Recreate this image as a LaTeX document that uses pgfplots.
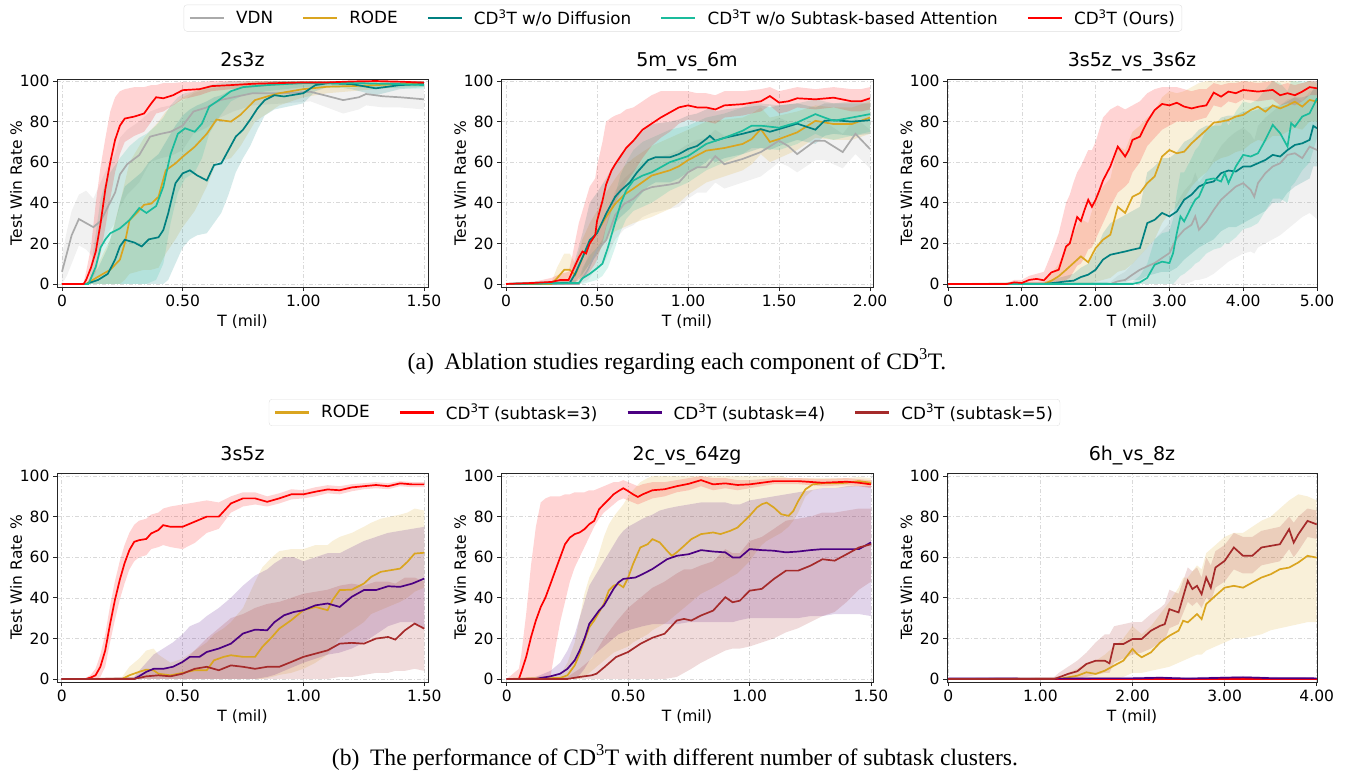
\documentclass[border=0pt]{standalone}
\usepackage{fontspec}
\setmainfont{DejaVu Sans}
\newfontfamily\capfont{Liberation Serif}
\usepackage{pgfplots}
\pgfplotsset{compat=1.18}
\usepackage{pgfplotstable}
\usepgfplotslibrary{fillbetween}

\definecolor{cvdn}{RGB}{170,170,170}
\definecolor{crode}{RGB}{218,165,32}
\definecolor{cteal}{RGB}{0,128,128}
\definecolor{ccyan}{RGB}{26,188,156}
\definecolor{cred}{RGB}{255,0,0}
\definecolor{cind}{RGB}{75,0,130}
\definecolor{cbrown}{RGB}{165,42,42}

% ---------------- 2s3z ----------------
\pgfplotstableread{
x m lo hi
0 6 0 14
0.02 15 4 26
0.04 24 10 36
0.07 32 19 44
0.10 30 17 46
0.13 28 13 42
0.16 31 18 50
0.19 38 25 58
0.22 45 30 64
0.24 54 38 72
0.27 59 44 76
0.32 63.5 50 80
0.365 72.6 60 85
0.41 74 62 87
0.45 75 63 88
0.50 78 66 90
0.545 85 74 94
0.60 87 77 96
0.655 90.6 82 97
0.71 92 85 98
0.79 94 88 99
0.92 94 89 99
1.03 94.7 90 99
1.12 92 86 97
1.165 90.6 84 96
1.23 92 86 97
1.26 93.6 88 98
1.33 92.5 87 97.5
1.40 92 87 97
1.50 91 86 96
}\PaV
\pgfplotstableread{
x m lo hi
0 0 0 0
0.10 0 0 0
0.15 3.6 0 10
0.20 7 0 22
0.24 12 0 40
0.26 20 2 50
0.28 31.5 5 60
0.31 35 6 66
0.34 39 7 72
0.37 39.6 7 76
0.40 43 8 80
0.43 56 15 85
0.47 59.4 22 89
0.50 62.7 28 92
0.55 67.6 36 95
0.60 74 48 97
0.64 81 60 98
0.70 80 62 98
0.74 83.4 68 99
0.80 90.6 80 100
0.85 92.4 84 100
0.90 94 88 100
1.00 96 92 100
1.10 97.2 94 100
1.20 97.5 95 100
1.30 98 96 100
1.40 98.5 97 100
1.50 98.5 97 100
}\PaR
\pgfplotstableread{
x m lo hi
0 0 0 0
0.10 0 0 0
0.15 2 0 8
0.19 5 0 18
0.22 12 0 30
0.24 18.5 0 40
0.26 21.8 0 48
0.30 20.4 0 52
0.33 18.5 0 55
0.36 22 0 60
0.40 23 0 64
0.42 26.6 0 68
0.44 34.8 2 72
0.47 49.6 10 78
0.50 54.5 18 83
0.53 56 22 86
0.56 53.5 24 88
0.60 51 25 90
0.63 58.6 30 92
0.66 59.4 35 93
0.69 66 44 95
0.72 72.6 55 96
0.75 76 62 97
0.78 81 68 98
0.81 86.5 76 99
0.84 90.6 83 99
0.88 93 86 100
0.92 92.4 87 100
1.00 94 89 100
1.05 98 95 100
1.10 98.9 97 100
1.20 98.5 96 100
1.30 96.4 93 99
1.40 98 96 100
1.50 98.5 97 100
}\PaT
\pgfplotstableread{
x m lo hi
0 0 0 0
0.11 0 0 0
0.14 8.5 0 25
0.16 18 0 42
0.18 22 0 50
0.20 25 0 55
0.24 27.4 0 62
0.28 31.5 0 68
0.32 37.4 0 72
0.35 35 0 74
0.39 38.4 2 78
0.42 48 10 82
0.45 64 30 88
0.48 74 45 92
0.51 76.7 52 94
0.55 75 55 95
0.58 79 62 96
0.61 87.4 74 98
0.65 90.6 82 99
0.70 95 90 100
0.75 97 93 100
0.85 98 95 100
1.00 99 97 100
1.20 99 97 100
1.40 98.5 96.5 100
1.50 98 96 100
}\PaC
\pgfplotstableread{
x m lo hi
0 0 0 0
0.08 0 0 0
0.09 0 0 1
0.10 2 0 6
0.12 8 2 18
0.14 16 6 40
0.16 30 15 58
0.18 47 28 72
0.20 60 42 85
0.22 71 55 92
0.24 78 64 95
0.26 81.5 70 96
0.30 82.5 73 97
0.34 84 75 97
0.37 89 80 98
0.39 92 84 98
0.42 91.5 85 99
0.46 93 88 99
0.50 95.5 91 99.5
0.57 96 93 99.5
0.62 97.5 95 100
0.70 98 96 100
0.80 98.7 97 100
0.90 99 98 100
1.00 99.3 98.5 100
1.10 99.3 98.5 100
1.20 99.8 99 100
1.30 100 99.5 100
1.40 99.7 99 100
1.50 99.2 98.5 100
}\PaO

% ---------------- 5m_vs_6m ----------------
\pgfplotstableread{
x m lo hi
0 0 0 0.5
0.40 0 0 1
0.45 7 2 14
0.50 16.7 8 26
0.55 21.6 12 34
0.60 34 22 46
0.65 39.5 27 52
0.70 42 29 56
0.75 46 33 60
0.80 47.7 35 62
0.90 49 37 64
0.95 50 38 66
1.00 55 42 69
1.05 57.5 45 71
1.10 57.5 45 72
1.15 63 50 76
1.20 59 47 73
1.30 61.6 50 75
1.40 65 53 78
1.50 70.6 60 82
1.55 68 58 80
1.60 64 55 76
1.70 70.6 61 80
1.75 70.6 61 80
1.85 65 57 74
1.92 74 64 82
2.00 66.5 57 76
}\PbV
\pgfplotstableread{
x m lo hi
0 0 0 0.5
0.25 0 0 1
0.28 2.8 0 8
0.32 7 1 15
0.35 7 1 15
0.38 4.4 0 10
0.42 13 4 22
0.46 20 10 30
0.50 25.7 15 36
0.55 33 21 45
0.60 39.5 26 52
0.65 44 28 58
0.70 47 30 62
0.80 53.4 33 68
0.90 56 37 72
0.95 58 40 74
1.00 61 44 76
1.10 65.7 50 80
1.20 67 53 81
1.30 69 56 82
1.35 71.4 59 84
1.40 76.3 64 87
1.45 70 60 82
1.50 71.4 62 83
1.60 74.7 66 85
1.70 80.4 72 88
1.80 78.8 71 87
1.90 78.8 71 87
2.00 82 74 90
}\PbR
\pgfplotstableread{
x m lo hi
0 0 0 0.5
0.35 0.5 0 2
0.38 5 1 12
0.42 13 5 25
0.46 21.6 10 40
0.50 25 14 45
0.55 34.6 22 52
0.60 43 30 60
0.63 46 33 64
0.68 50 37 68
0.72 55 42 72
0.78 61 48 78
0.82 62.4 50 79
0.90 62.4 50 80
0.95 64 52 81
1.00 66.5 55 83
1.05 68 57 84
1.10 71.4 60 86
1.12 73 62 87
1.15 70.6 60 85
1.20 72 62 86
1.30 74 64 87
1.40 76.3 67 88
1.45 75 66 87
1.50 76.3 68 88
1.60 79 71 89
1.70 76 69 87
1.75 80.4 73 89
1.80 80.7 74 89
1.90 80 73 89
2.00 80.7 74 89
}\PbT
\pgfplotstableread{
x m lo hi
0 0 0 0.5
0.40 0.5 0 2
0.42 2.8 0 8
0.46 5 1 14
0.50 7.7 2 18
0.53 10 4 22
0.56 18 8 32
0.60 30.5 18 44
0.63 39.5 26 54
0.66 46 32 60
0.70 51 36 66
0.75 53.4 38 70
0.80 55 40 72
0.85 57.5 43 74
0.90 60 46 76
1.00 63 50 78
1.10 69 56 82
1.20 72 60 84
1.30 75.5 64 87
1.35 78 67 89
1.40 78 67 89
1.50 77 66 88
1.60 79.6 69 89
1.70 83.7 74 91
1.75 82 72 90
1.80 80.4 71 89
1.90 82 73 90
2.00 83.7 75 91
}\PbC
\pgfplotstableread{
x m lo hi
0 0 0 0.5
0.15 0.5 0 1
0.25 1 0 3
0.30 2 0 5
0.344 2 0 6
0.36 5.2 0 12
0.40 13 2 30
0.42 16 3 36
0.44 15 4 42
0.46 20 6 48
0.49 24 10 52
0.50 31 12 58
0.53 41 20 70
0.55 49 28 80
0.58 56 36 82
0.60 59 40 83
0.63 63 45 84
0.66 67 50 86
0.70 70.6 55 87
0.75 76 62 90
0.80 79 68 93
0.85 82 72 95
0.90 84.5 75 95
0.95 87 79 95
1.00 88 81 95
1.05 87 80 94
1.10 87 80 94
1.15 86 79 93
1.20 88 82 95
1.30 88.6 83 95
1.40 90 85 96
1.45 92.6 88 97
1.50 89.4 84 95
1.55 90 85 96
1.60 91.5 87 97
1.70 91 86 96
1.80 91.8 87 97
1.90 90 85 96
1.95 90 85 96
2.00 91.5 86 97
}\PbO

% ---------------- 3s5z_vs_3s6z ----------------
\pgfplotstableread{
x m lo hi
0 0 0 0.3
2.2 0 0 1
2.3 1.3 0 4
2.4 2 0 6
2.5 4.6 0 10
2.6 7 0 14
2.7 8.7 0 18
2.8 10.3 0 22
2.9 12.8 0 26
3.0 15.2 0 30
3.1 22.6 0 40
3.2 26.7 0 46
3.3 29.2 1 50
3.35 33.3 2 55
3.4 26.7 2 50
3.5 30.8 3 55
3.6 36.5 5 62
3.7 41.5 8 68
3.8 44.8 11 72
3.9 48 13 75
4.0 49.7 15 77
4.1 46.4 16 74
4.15 43 15 71
4.2 49.7 18 78
4.3 54.6 20 82
4.4 57.9 22 85
4.5 59.5 24 88
4.6 63.6 27 91
4.7 64.4 30 92
4.8 62 33 90
4.9 67.7 35 95
5.0 66 32 96
}\PcV
\pgfplotstableread{
x m lo hi
0 0 0 0.3
1.3 0 0 1
1.4 1.6 0 5
1.5 3.8 0 10
1.6 7 0 18
1.7 10.3 0 25
1.8 13.6 0 32
1.9 10.7 0 30
2.0 17.7 1 42
2.1 21.8 2 48
2.2 24.3 3 52
2.3 38 6 68
2.4 35 7 66
2.5 43 10 75
2.6 44.8 14 78
2.7 49.7 18 82
2.8 53 22 85
2.9 62.8 30 92
3.0 66 35 95
3.1 64.4 38 94
3.2 65.2 42 95
3.3 69.3 48 97
3.4 72.6 52 99
3.5 75.9 55 100
3.6 79.5 60 100
3.7 80 62 100
3.8 80.8 63 100
3.9 82.5 65 100
4.0 83.3 66 100
4.1 85.7 69 100
4.2 87.4 71 100
4.3 84.9 70 100
4.4 88 73 100
4.5 86.5 73 100
4.6 88 75 100
4.7 89.8 77 100
4.8 87.4 76 99
4.9 90.7 80 100
5.0 89.8 80 99
}\PcR
\pgfplotstableread{
x m lo hi
0 0 0 0.3
1.3 0 0 1
1.5 0.8 0 3
1.6 1.3 0 4
1.7 1.6 0 5
1.8 3.4 0 8
1.9 4.6 0 10
2.0 7 0 16
2.1 12 0 25
2.2 14.4 1 30
2.3 15.2 1 32
2.4 16 1 34
2.5 16.9 2 36
2.6 17.7 2 38
2.7 30 4 55
2.8 31.6 5 58
2.9 35 6 62
3.0 33.3 6 62
3.1 35.7 8 65
3.2 41.5 12 70
3.3 44 15 72
3.4 48 18 76
3.5 49.7 20 78
3.6 50.5 22 78
3.7 54.6 26 82
3.8 55.9 28 83
3.9 55.4 28 83
4.0 57.9 30 85
4.1 57.9 32 85
4.2 59.5 34 86
4.3 61.1 36 87
4.4 63.6 40 88
4.5 62.8 40 88
4.6 66 45 90
4.7 68.5 48 92
4.8 69.3 50 92
4.9 71 52 93
4.95 77.9 58 96
5.0 76.7 58 96
}\PcT
\pgfplotstableread{
x m lo hi
0 0 0 0.3
2.5 0 0 1
2.6 0.8 0 4
2.7 3 0 10
2.8 9.5 0 22
2.9 11 0 25
3.0 10.3 0 26
3.05 15.2 0 32
3.1 25 2 45
3.15 33.3 4 55
3.2 30.8 5 55
3.3 38.2 8 62
3.35 41.5 10 66
3.4 43 11 68
3.5 51.3 15 76
3.6 52 17 78
3.7 50.5 18 78
3.75 54.6 20 82
3.8 49.7 20 78
3.9 57.9 23 85
4.0 63.6 27 90
4.1 62.8 28 89
4.2 64.4 30 91
4.3 71 36 96
4.4 78.4 42 100
4.5 74.3 42 99
4.6 67.7 40 95
4.65 79.2 48 100
4.7 77.5 50 100
4.8 82.5 56 100
4.9 84.1 60 100
5.0 91.5 72 100
}\PcC
\pgfplotstableread{
x m lo hi
0 0 0 0.3
0.8 0 0 0.5
0.9 0.8 0 2
1.0 0.5 0 2
1.1 2 0 4
1.2 2.5 0 5
1.3 1.8 0 6
1.4 5.7 0 15
1.5 7 0 25
1.6 18.5 2 40
1.65 20 3 44
1.7 26.7 6 50
1.75 33 9 55
1.8 31 10 58
1.85 36.5 13 62
1.9 41.5 17 66
1.95 38 18 66
2.0 41.5 22 70
2.05 46 26 76
2.1 51 30 82
2.2 58 38 86
2.3 67.7 45 88
2.4 62.8 48 86
2.45 66 50 87
2.5 71 55 88
2.6 72.6 60 90
2.7 80 68 94
2.8 85.7 72 96
2.9 88.7 76 97
3.0 88 78 97
3.1 89.3 80 97
3.2 87.4 80 96
3.3 86.5 80 95
3.4 87.4 81 96
3.5 88 82 96
3.6 94.3 88 99
3.7 92.3 87 98
3.8 94.8 90 99
3.9 94 89 99
4.0 95.6 91 100
4.2 94.8 90 99
4.4 95.6 91 100
4.5 93 88 98
4.6 94 89 99
4.7 93 88 98
4.8 94.8 90 99
4.9 97 93 100
5.0 96.4 93 100
}\PcO

% ---------------- 3s5z ----------------
\pgfplotstableread{
x m lo hi
0 0 0 0
0.25 0 0 1
0.28 1.8 0 6
0.32 3.5 0 10
0.35 4.6 0 14
0.38 4.3 0 15
0.40 2.6 0 12
0.45 1.8 0 8
0.50 3 0 10
0.55 4.3 0 14
0.60 4.3 0 18
0.63 9.2 0 22
0.67 10.9 0 25
0.70 11.7 0 28
0.75 10.9 0 35
0.80 10.9 0 48
0.83 15.8 0 55
0.87 20.7 1 60
0.90 24.8 2 63
0.95 29 3 64
1.00 33.9 5 64
1.05 35.5 8 66
1.10 33.9 12 66
1.12 38.8 15 68
1.15 43.8 20 70
1.20 44 24 72
1.25 47 28 75
1.28 50.3 32 77
1.32 52.8 34 79
1.36 53.6 36 80
1.40 54.4 38 81
1.43 57.7 40 82
1.46 61.8 43 84
1.50 62.2 45 83
}\PdR
\pgfplotstableread{
x m lo hi
0 0 0 0
0.10 0 0 0.5
0.12 0.7 0 2
0.14 1.8 0 5
0.16 6 1 12
0.18 14 6 22
0.20 27 18 36
0.22 38.8 29 48
0.24 48.7 39 58
0.26 57 47 66
0.28 63.5 54 72
0.30 67.6 58 76
0.32 68.4 60 78
0.35 69 61 79
0.37 71.7 64 81
0.40 73.4 65 82
0.42 75.8 66 84
0.45 75 65 85
0.50 75 64 86
0.55 77.5 67 87
0.60 80 72 88
0.65 80 74 87
0.70 86.5 82 90
0.75 89 85 92
0.80 89 86 92
0.85 87.3 85 90
0.90 89 86.5 91.5
0.95 91 88.5 93.5
1.00 91 89 93
1.05 92.3 90 94.5
1.10 93.4 91.5 95.5
1.15 93 91 95
1.20 94.4 92.5 96
1.25 95 93.5 96.5
1.30 95.6 94 97
1.35 95 93.5 96.5
1.40 96.4 95 97.5
1.45 95.9 94.5 97
1.50 95.9 94.5 97
}\PdO
\pgfplotstableread{
x m lo hi
0 0 0 0
0.30 0 0 1
0.32 1.3 0 4
0.35 3.5 0 8
0.38 5 0 12
0.42 5 0 15
0.46 6 0 18
0.50 8.4 0 22
0.53 10.9 0 26
0.57 10.9 0 28
0.60 13.3 0 31
0.65 15 0 35
0.70 17.4 0 40
0.75 22.4 0 46
0.80 24.3 0 51
0.85 24 1 54
0.88 28 2 57
0.92 31.4 4 60
0.96 33 6 60
1.00 33.9 8 58
1.05 36.3 10 60
1.10 37.2 12 62
1.15 35.5 13 62
1.20 40.5 15 65
1.25 43.8 18 68
1.30 43.8 22 70
1.35 45.7 26 72
1.40 45.4 28 73
1.45 47 28 74
1.50 49.5 25 75
}\PdI
\pgfplotstableread{
x m lo hi
0 0 0 0
0.30 0 0 1
0.35 1.3 0 4
0.40 1.8 0 5
0.45 1.3 0 5
0.50 2.6 0 8
0.55 5 0 14
0.60 6 0 20
0.65 4.3 0 25
0.70 6.7 0 30
0.75 6 0 32
0.80 5 0 35
0.85 6 0 37
0.90 6 0 38
0.95 8.4 0 40
1.00 10.9 0 42
1.05 12.5 0 43
1.10 14.1 0 44
1.15 17.4 1 46
1.20 17.8 1 47
1.25 17.4 2 46
1.30 19.9 3 48
1.35 20.7 3 48
1.38 19.4 4 47
1.42 24 4 50
1.46 27.3 5 50
1.50 24.8 4 48
}\PdB

% ---------------- 2c_vs_64zg ----------------
\pgfplotstableread{
x m lo hi
0 0 0 0
0.22 0.5 0 2
0.25 1.8 0 8
0.28 6.7 0 18
0.30 12.4 0 30
0.32 19 1 42
0.34 25.5 3 50
0.36 28.8 5 55
0.38 32.9 7 62
0.40 37 9 70
0.42 43.5 11 76
0.44 46 13 80
0.46 46.8 14 83
0.48 45.2 15 86
0.50 50 16 90
0.52 56.6 18 93
0.55 64.8 20 97
0.58 66.4 22 99
0.60 68.9 24 100
0.63 67.3 26 100
0.66 63.2 28 100
0.68 60.7 30 100
0.70 62.4 32 100
0.73 65.6 35 100
0.76 68.9 38 100
0.80 71.4 42 100
0.85 72.2 45 100
0.88 71.4 47 100
0.92 73 50 100
0.95 74.6 52 100
1.00 80.4 58 100
1.03 84.5 63 100
1.05 86.1 66 100
1.07 86.9 68 100
1.10 84.5 70 100
1.13 81.2 72 100
1.16 80.4 75 99
1.18 82.8 78 99
1.20 87.7 82 99
1.23 93.5 90 99
1.26 95.9 93 99
1.30 96.4 94 99
1.35 96.4 94 99
1.40 96.7 94.5 99
1.45 97.5 95 99.5
1.50 96.7 94.5 99
}\PeR
\pgfplotstableread{
x m lo hi
0 0 0 0
0.05 0 0 5
0.06 3.4 0 12
0.08 10.8 0 32
0.10 20.6 0 56
0.12 28.8 0 75
0.14 35.4 0 87
0.16 40.3 0 89
0.18 46.8 1 90
0.20 53.4 15 90
0.22 59.9 28 90
0.24 66.4 38 91
0.26 69.7 48 91
0.28 71.4 55 92
0.30 72.2 60 92
0.32 73.8 65 92
0.34 76.3 70 93
0.36 77.9 75 93
0.38 83.6 79 94
0.40 86.1 82 95
0.42 88.5 84 96
0.44 91 86 97
0.46 92.6 88 97
0.48 94 89 98
0.50 92.6 88 97
0.52 91 87 96
0.54 89.7 86 95
0.56 91 87 96
0.60 93 89 97
0.65 93.5 90 97
0.70 95 92 98
0.75 96.2 93 99
0.80 98 95 100
0.85 95.9 93 99
0.90 96.4 94 99
0.95 95.6 93 98
1.00 95.9 94 98
1.05 96.7 95 98.5
1.10 97.5 96 99
1.20 97.5 96 99
1.30 96.7 95 98.5
1.40 97.2 95.5 99
1.45 96.7 95 98.5
1.50 95.9 94 98
}\PeO
\pgfplotstableread{
x m lo hi
0 0 0 0
0.12 0 0 1
0.14 0.5 0 2
0.18 1.3 0 4
0.22 2.6 0 8
0.25 5 0 14
0.28 9.2 0 22
0.30 14 2 30
0.32 19.8 5 38
0.34 27.2 9 46
0.36 30.4 12 50
0.38 33.7 14 54
0.40 36.2 16 58
0.42 40.3 18 62
0.44 44.4 20 66
0.46 47.6 22 70
0.48 49.3 23 73
0.50 49.6 24 75
0.53 50 25 77
0.56 51.7 26 79
0.60 54.2 27 81
0.63 56.6 27 83
0.66 59 27 84
0.70 60.7 27 85
0.75 61.5 28 86
0.80 63.5 28 87
0.85 62.8 28 87
0.90 62.4 28 87
0.93 59.9 28 86
0.96 59.9 29 86
1.00 64 30 88
1.05 63.5 30 89
1.10 63.2 30 90
1.15 62.4 30 91
1.20 62.8 30 92
1.25 63.5 31 93
1.30 64 31 94
1.35 64 32 94
1.40 64 32 95
1.45 64 32 95
1.50 67.3 31 95
}\PeI
\pgfplotstableread{
x m lo hi
0 0 0 0
0.25 0 0 1
0.30 1 0 5
0.35 1.8 0 10
0.37 2.6 0 14
0.40 5.6 0 20
0.45 10.8 0 28
0.50 13.3 0 35
0.55 17.3 0 40
0.60 20.3 0 45
0.65 22.3 0 48
0.70 28.8 1 52
0.73 29.6 3 54
0.76 28.8 5 54
0.80 31.3 8 56
0.85 33.7 11 58
0.90 40.3 14 64
0.93 37.8 15 62
0.96 38.6 15 62
1.00 43.5 16 68
1.05 44.4 18 70
1.10 49.3 20 74
1.15 53.4 23 78
1.20 53.4 25 79
1.25 55.8 28 80
1.30 59 31 82
1.35 58.3 33 82
1.40 61.5 38 83
1.45 64.8 44 84
1.50 66.4 48 84
}\PeB

% ---------------- 6h_vs_8z ----------------
\pgfplotstableread{
x m lo hi
0 0 0 0.3
1.2 0 0 1
1.3 0.8 0 3
1.4 1.6 0 5
1.5 3.3 0 8
1.6 2.5 0 9
1.7 4.1 0 12
1.8 6.6 0 16
1.9 9 1 20
2.0 14.8 3 26
2.05 12.3 3 24
2.1 10.7 3 22
2.2 13.1 4 26
2.3 18 5 32
2.4 21.3 6 38
2.5 23.8 8 45
2.55 28.7 9 50
2.6 27.9 10 50
2.7 32 12 56
2.75 29.5 12 54
2.8 36.9 14 62
2.9 41 16 66
3.0 45 18 70
3.1 45.9 20 72
3.2 45 20 72
3.3 47.5 21 75
3.4 50 22 78
3.5 51.6 24 80
3.6 54.1 25 84
3.7 54.9 26 88
3.8 57.4 27 91
3.9 60.7 28 90
4.0 59.8 28 88
}\PfR
\pgfplotstableread{
x m lo hi
0 0 0 0.3
1.0 0 0 0.3
2.0 0 0 0.4
3.0 0 0 0.4
4.0 0 0 0.3
}\PfO
\pgfplotstableread{
x m lo hi
0 0.2 0 0.6
0.7 0.2 0 0.8
1.0 0.1 0 0.5
1.6 0.3 0 0.9
2.0 0.3 0 1.0
2.3 0.6 0 1.2
2.6 0.2 0 0.8
3.2 0.8 0 1.5
3.5 0.4 0 1.0
4.0 0.3 0 0.8
}\PfI
\pgfplotstableread{
x m lo hi
0 0 0 0.3
1.15 0 0 1
1.2 0.8 0 3
1.3 2.5 0 6
1.4 3.8 0 9
1.5 7.4 1 13
1.6 9 2 18
1.7 9 3 22
1.75 7.7 3 22
1.8 17.2 8 26
1.9 17.2 10 27
2.0 19.7 12 28
2.1 19.7 13 28
2.2 23.8 15 32
2.3 26.2 18 35
2.35 27 19 37
2.4 34.4 25 44
2.5 32.8 27 42
2.6 48.4 38 55
2.65 44.3 36 53
2.7 45.9 38 55
2.75 41.8 35 50
2.8 50 40 60
2.85 45 38 56
2.9 54.9 45 63
3.0 58.2 48 66
3.1 64.8 54 72
3.2 60.7 52 70
3.3 60.7 52 70
3.4 64.8 56 73
3.5 65.6 57 74
3.6 66.4 58 75
3.7 73.8 64 80
3.75 67.2 60 77
3.8 71.3 63 80
3.9 77.9 70 84
4.0 76.2 69 83
}\PfB

\newcommand{\series}[3]{%
  \addplot[draw=none, forget plot, name path=h#3] table[x=x,y=hi]{#1};
  \addplot[draw=none, forget plot, name path=l#3] table[x=x,y=lo]{#1};
  \addplot[fill=#2, fill opacity=0.17, draw=none, forget plot] fill between[of=h#3 and l#3];
  \addplot[#2, line width=1.7pt] table[x=x,y=m]{#1};
}

\pgfplotsset{
  myax/.style={
    scale only axis, width=371pt, height=208pt, ymin=-1.5, ymax=101,
    ytick={0,20,40,60,80,100}, yticklabels={0,20,40,60,80,100},
    tick pos=left, tick align=outside, major tick length=4pt,
    tick style={black!85, line width=0.8pt},
    axis line style={black!85, line width=0.8pt},
    grid=major,
    major grid style={gray!30, line width=0.6pt, dash pattern=on 4pt off 2pt on 1pt off 2pt},
    tick label style={font=\fontsize{15.5}{18}\selectfont},
    label style={font=\fontsize{15.5}{18}\selectfont},
    title style={font=\fontsize{19}{22}\selectfont, at={(axis description cs:0.5,1)}, anchor=base, yshift=7pt},
    xlabel={T (mil)}, ylabel={Test Win Rate \%},
    xlabel style={at={(axis description cs:0.5,0)}, anchor=center, yshift=-35pt},
    ylabel style={at={(axis description cs:-0.11,0.5)}, anchor=center},
    legend cell align=left,
    legend image code/.code={\draw[##1, line width=2.2pt] (0pt,0pt) -- (34pt,0pt);},
    legend style={draw=black!12, rounded corners=3pt, fill=white,
      font=\fontsize{16.8}{19}\selectfont,
      /tikz/every odd column/.append style={column sep=9pt},
      /tikz/every even column/.append style={column sep=27pt},
      inner xsep=5pt, inner ysep=3pt},
  },
}

\begin{document}
\begin{tikzpicture}

% ===== row 1 =====
\begin{axis}[myax, at={(57pt,-287pt)}, anchor=south west,
  xmin=-0.0207, xmax=1.5166, xtick={0,0.5,1,1.5}, xticklabels={0,0.50,1.00,1.50},
  title={2s3z}]
\series{\PaV}{cvdn}{v}
\series{\PaR}{crode}{r}
\series{\PaT}{cteal}{t}
\series{\PaC}{ccyan}{c}
\series{\PaO}{cred}{o}
\end{axis}

\begin{axis}[myax, width=372pt, at={(501pt,-287pt)}, anchor=south west,
  xmin=-0.0275, xmax=2.0165, xtick={0,0.5,1,1.5,2}, xticklabels={0,0.50,1.00,1.50,2.00},
  title={5m\_vs\_6m},
  legend columns=5,
  legend style={at={(0.489,1.293)}, anchor=center},
  legend entries={VDN,RODE,{CD\textsuperscript{3}T w/o Diffusion},{CD\textsuperscript{3}T w/o Subtask-based Attention},{CD\textsuperscript{3}T (Ours)}}]
\series{\PbV}{cvdn}{v}
\series{\PbR}{crode}{r}
\series{\PbT}{cteal}{t}
\series{\PbC}{ccyan}{c}
\series{\PbO}{cred}{o}
\end{axis}

\begin{axis}[myax, width=370pt, at={(947pt,-287pt)}, anchor=south west,
  xmin=-0.0136, xmax=5.0, xtick={0,1,2,3,4,5}, xticklabels={0,1.00,2.00,3.00,4.00,5.00},
  title={3s5z\_vs\_3s6z}]
\series{\PcV}{cvdn}{v}
\series{\PcR}{crode}{r}
\series{\PcT}{cteal}{t}
\series{\PcC}{ccyan}{c}
\series{\PcO}{cred}{o}
\end{axis}

% ===== row 2 =====
\begin{axis}[myax, height=209pt, ymax=101.5, at={(57pt,-682pt)}, anchor=south west,
  xmin=-0.0194, xmax=1.5153, xtick={0,0.5,1,1.5}, xticklabels={0,0.50,1.00,1.50},
  title={3s5z}]
\series{\PdR}{crode}{r}
\series{\PdO}{cred}{o}
\series{\PdI}{cind}{i}
\series{\PdB}{cbrown}{b}
\end{axis}

\begin{axis}[myax, width=372pt, height=209pt, ymax=101.5, at={(501pt,-682pt)}, anchor=south west,
  xmin=-0.0235, xmax=1.508, xtick={0,0.5,1,1.5}, xticklabels={0,0.50,1.00,1.50},
  title={2c\_vs\_64zg},
  legend columns=4,
  legend style={at={(0.4395,1.2895)}, anchor=center},
  legend entries={RODE,{CD\textsuperscript{3}T (subtask=3)},{CD\textsuperscript{3}T (subtask=4)},{CD\textsuperscript{3}T (subtask=5)}}]
\series{\PeR}{crode}{r}
\series{\PeO}{cred}{o}
\series{\PeI}{cind}{i}
\series{\PeB}{cbrown}{b}
\end{axis}

\begin{axis}[myax, width=370pt, height=209pt, ymax=101.5, at={(947pt,-682pt)}, anchor=south west,
  xmin=-0.014, xmax=4.003, xtick={0,1,2,3,4}, xticklabels={0,1.00,2.00,3.00,4.00},
  title={6h\_vs\_8z}]
\series{\PfR}{crode}{r}
\series{\PfO}{cred}{o}
\series{\PfI}{cind}{i}
\series{\PfB}{cbrown}{b}
\end{axis}

\node[anchor=base, font=\capfont\fontsize{23.6}{27}\selectfont] at (677pt,-369pt)
  {(a)\hspace{0.45em}Ablation studies regarding each component of CD\textsuperscript{3}T.};
\node[anchor=base, font=\capfont\fontsize{23.6}{27}\selectfont] at (675pt,-765pt)
  {(b)\hspace{0.45em}The performance of CD\textsuperscript{3}T with different number of subtask clusters.};

\pgfresetboundingbox
\path[use as bounding box] (0,0) rectangle (1356pt,-772pt);
\end{tikzpicture}
\end{document}
